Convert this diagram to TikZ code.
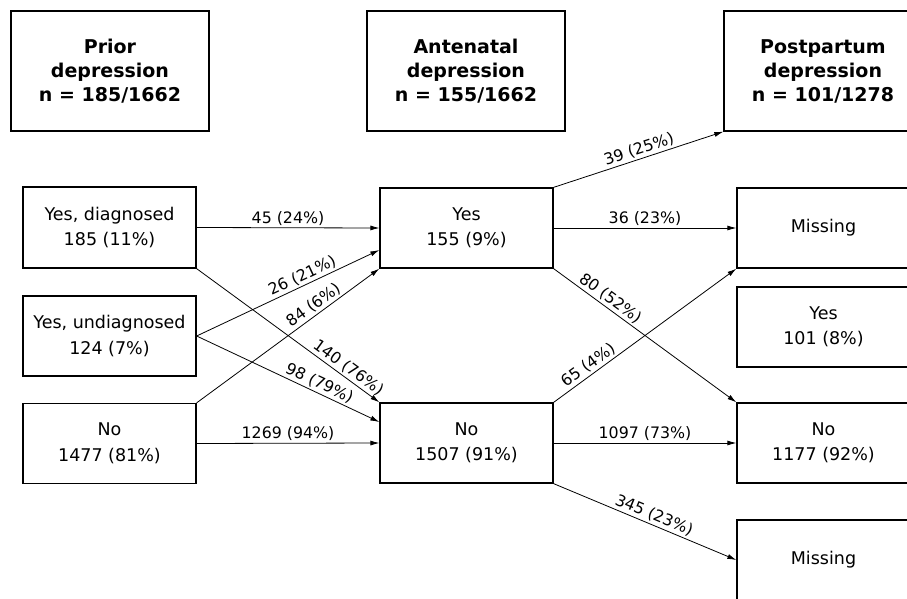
\documentclass[tikz,border=0pt]{standalone}
\usepackage{fontspec}
\setmainfont{DejaVu Sans}
\usetikzlibrary{arrows.meta}
\begin{document}
\begin{tikzpicture}[x=1pt,y=-1pt,
  every node/.style={font=\fontsize{17.5}{25.5}\selectfont},
  hbox/.style={draw,line width=1.3pt,minimum width=198pt,minimum height=120pt,align=center,inner sep=0pt,font=\fontsize{19}{24}\selectfont\bfseries},
  dbox/.style={draw,line width=1.3pt,minimum width=173pt,minimum height=80pt,align=center,inner sep=0pt},
  flow/.style={draw,line width=0.8pt,-{Latex[length=9pt,width=5pt]}},
  lab/.style={above,sloped,inner sep=2pt,font=\fontsize{15.8}{18}\selectfont}]
\useasboundingbox (0,0) rectangle (907,599);
\clip (0,0) rectangle (907,599);
\fill[white] (0,0) rectangle (907,599);
% headers
\node[hbox] (hp) at (110,71) {Prior\\depression\\n = 185/1662};
\node[hbox] (ha) at (466,71) {Antenatal\\depression\\n = 155/1662};
\node[hbox] (hpp) at (823,71) {Postpartum\\depression\\n = 101/1278};
% prior
\node[dbox,minimum height=81pt] (pyd) at (109.5,227.5) {Yes, diagnosed\\185 (11\%)};
\node[dbox] (pyu) at (109.5,336) {Yes, undiagnosed\\124 (7\%)};
\node[dbox] (pno) at (109.5,443.5) {No\\1477 (81\%)};
% antenatal
\node[dbox] (ay) at (466.5,228) {Yes\\155 (9\%)};
\node[dbox] (an) at (466.5,443) {No\\1507 (91\%)};
% postpartum
\node[dbox] (rm1) at (823.5,228) {Missing};
\node[dbox] (ry) at (823.5,327) {Yes\\101 (8\%)};
\node[dbox] (rn) at (823.5,443) {No\\1177 (92\%)};
\node[dbox] (rm2) at (823.5,560) {Missing};
% prior -> antenatal
\draw[flow] (pyd.east) -- node[lab,pos=0.5] {45 (24\%)} (ay.west);
\draw[flow] (pyd.south east) -- node[lab,pos=0.8] {140 (76\%)} (an.north west);
\draw[flow] (pyu.east) -- node[lab,pos=0.6] {26 (21\%)} ([yshift=-22pt]ay.west);
\draw[flow] (pyu.east) -- node[lab,pos=0.65] {98 (79\%)} ([yshift=21pt]an.west);
\draw[flow] (pno.north east) -- node[lab,pos=0.67] {84 (6\%)} (ay.south west);
\draw[flow] (pno.east) -- node[lab,pos=0.5] {1269 (94\%)} (an.west);
% antenatal -> postpartum
\draw[flow] (ay.north east) -- node[lab,pos=0.52] {39 (25\%)} (hpp.south west);
\draw[flow] (ay.east) -- node[lab,pos=0.5] {36 (23\%)} (rm1.west);
\draw[flow] (ay.south east) -- node[lab,pos=0.28] {80 (52\%)} (rn.north west);
\draw[flow] (an.north east) -- node[lab,pos=0.22] {65 (4\%)} (rm1.south west);
\draw[flow] (an.east) -- node[lab,pos=0.5] {1097 (73\%)} (rn.west);
\draw[flow] (an.south east) -- node[lab,pos=0.53] {345 (23\%)} (rm2.west);
\end{tikzpicture}
\end{document}
